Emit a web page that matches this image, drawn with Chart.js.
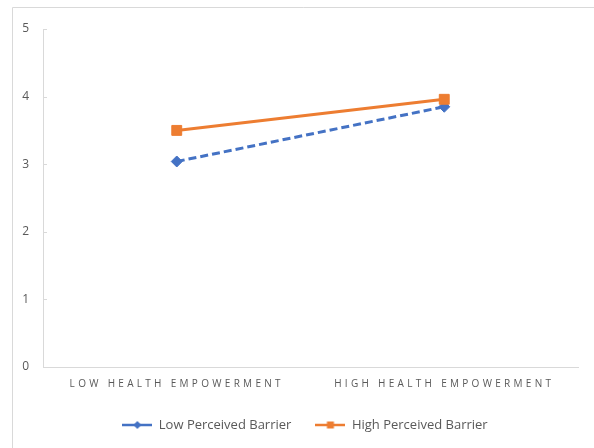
<!DOCTYPE html>
<html>
<head>
<meta charset="utf-8">
<script src="https://cdn.jsdelivr.net/npm/chart.js@4.4.1/dist/chart.umd.min.js"></script>
<style>
  html, body { margin: 0; padding: 0; background: #ffffff; }
  #wrap { width: 594px; height: 448px; position: relative; }
</style>
</head>
<body>
<div id="wrap"><canvas id="chart" width="594" height="448"></canvas></div>
<script>
// Mean scores by empowerment level for each barrier group
const categories = ['LOW HEALTH EMPOWERMENT', 'HIGH HEALTH EMPOWERMENT'];
const seriesNames = ['Low Perceived Barrier', 'High Perceived Barrier'];
const lowBarrierValues = [3.04, 3.85];
const highBarrierValues = [3.50, 3.96];
const yTickValues = [0, 1, 2, 3, 4, 5];

const BLUE = '#4472C4';
const ORANGE = '#ED7D31';
const AXIS_GREY = '#d9d9d9';
const TEXT_GREY = '#595959';

// Small line-with-marker swatch for the legend
function legendSwatch(color, marker) {
  const c = document.createElement('canvas');
  c.width = 30; c.height = 12;
  const g = c.getContext('2d');
  g.strokeStyle = color;
  g.lineWidth = 2.5;
  g.beginPath(); g.moveTo(0, 6); g.lineTo(30, 6); g.stroke();
  g.fillStyle = color;
  g.beginPath();
  if (marker === 'diamond') {
    g.moveTo(15, 2); g.lineTo(19, 6); g.lineTo(15, 10); g.lineTo(11, 6);
  } else {
    g.rect(11.5, 2.5, 7, 7);
  }
  g.closePath(); g.fill();
  return c;
}
const swatches = [legendSwatch(BLUE, 'diamond'), legendSwatch(ORANGE, 'square')];

// Outer frame, inward tick stubs on the value axis, spaced-out category labels,
// and final placement of the legend row
const decorPlugin = {
  id: 'decor',
  afterLayout(chart) {
    const lg = chart.legend;
    if (lg) {
      lg.left = 22;
      lg.right = 588;
      lg.top = 394.5;
      lg.bottom = lg.top + lg.height;
    }
  },
  beforeDraw(chart) {
    const ctx = chart.ctx;
    ctx.save();
    ctx.strokeStyle = AXIS_GREY;
    ctx.lineWidth = 1;
    ctx.beginPath();
    ctx.moveTo(12.5, 448);
    ctx.lineTo(12.5, 7.5);
    ctx.lineTo(594, 7.5);
    ctx.stroke();
    ctx.restore();

    const xs = chart.scales.x;
    if (!xs._spaced) {
      const orig = xs.drawLabels;
      xs.drawLabels = function (area) {
        this.ctx.save();
        this.ctx.letterSpacing = '3.3px';
        orig.call(this, area);
        this.ctx.restore();
      };
      xs._spaced = true;
    }
  },
  afterDraw(chart) {
    const ctx = chart.ctx;
    const ys = chart.scales.y;
    const left = chart.chartArea.left;
    ctx.save();
    ctx.strokeStyle = AXIS_GREY;
    ctx.lineWidth = 1;
    yTickValues.forEach(v => {
      const py = Math.round(ys.getPixelForValue(v)) + 0.5;
      ctx.beginPath();
      ctx.moveTo(left, py);
      ctx.lineTo(left + 4, py);
      ctx.stroke();
    });
    ctx.restore();
  }
};

new Chart(document.getElementById('chart'), {
  type: 'line',
  data: {
    labels: categories,
    datasets: [
      {
        label: seriesNames[0],
        data: lowBarrierValues,
        borderColor: BLUE,
        backgroundColor: BLUE,
        borderWidth: 3,
        borderDash: [8, 4],
        pointStyle: 'rectRot',
        pointRadius: 5.5,
        pointBorderWidth: 1,
        pointBorderColor: BLUE,
        pointBackgroundColor: BLUE,
        tension: 0,
        fill: false,
        order: 1
      },
      {
        label: seriesNames[1],
        data: highBarrierValues,
        borderColor: ORANGE,
        backgroundColor: ORANGE,
        borderWidth: 3,
        pointStyle: 'rect',
        pointRadius: 7,
        pointBorderWidth: 1,
        pointBorderColor: ORANGE,
        pointBackgroundColor: ORANGE,
        tension: 0,
        fill: false,
        order: 0
      }
    ]
  },
  options: {
    responsive: false,
    animation: false,
    layout: { padding: { left: 12, top: 29, right: 16, bottom: 0 } },
    scales: {
      x: {
        type: 'category',
        offset: true,
        grid: { display: false, drawTicks: false },
        border: { display: true, color: AXIS_GREY, width: 1 },
        ticks: {
          color: TEXT_GREY,
          font: { family: 'Open Sans', size: 10 },
          padding: 11,
          maxRotation: 0,
          autoSkip: false
        },
        afterFit(scale) { scale.height = 34; }
      },
      y: {
        min: 0,
        max: 5,
        afterBuildTicks(scale) { scale.ticks = yTickValues.map(v => ({ value: v })); },
        grid: { display: false, drawTicks: false },
        border: { display: true, color: AXIS_GREY, width: 1 },
        ticks: {
          color: TEXT_GREY,
          font: { family: 'Open Sans', size: 12 },
          padding: 14
        },
        afterFit(scale) { scale.width = 31; }
      }
    },
    plugins: {
      tooltip: { enabled: false },
      legend: {
        position: 'bottom',
        labels: {
          usePointStyle: true,
          pointStyleWidth: 30,
          padding: 24,
          color: TEXT_GREY,
          font: { family: 'Open Sans', size: 13 },
          generateLabels(chart) {
            return chart.data.datasets.map((ds, i) => ({
              text: ds.label,
              pointStyle: swatches[i],
              fillStyle: ds.borderColor,
              strokeStyle: ds.borderColor,
              lineWidth: 0,
              fontColor: TEXT_GREY,
              hidden: false,
              datasetIndex: i
            }));
          }
        }
      }
    }
  },
  plugins: [decorPlugin]
});
</script>
</body>
</html>
